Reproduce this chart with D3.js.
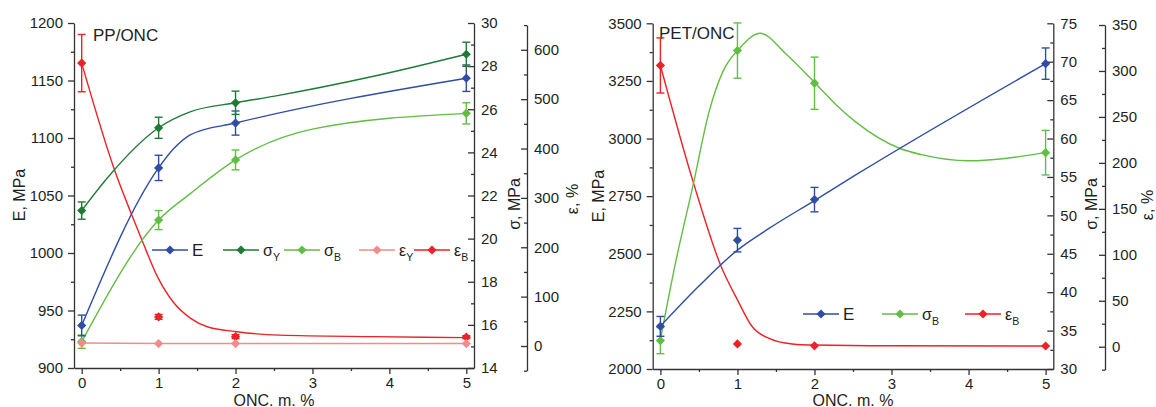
<!DOCTYPE html>
<html>
<head>
<meta charset="utf-8">
<script src="https://cdn.jsdelivr.net/npm/d3@7"></script>
<style>
  body { margin: 0; background: #fff; }
  svg { display: block; }
</style>
</head>
<body>
<svg id="chart" width="1156" height="407"></svg>
<script>
// ---------- data ----------
const onc = [0, 1, 2, 5];
const xTicks = [0, 1, 2, 3, 4, 5];
const xMinorTicks = [0.5, 1.5, 2.5, 3.5, 4.5];

// PP/ONC composites
const ppE = [937, 1074, 1113, 1152];
const ppEErr = [9, 11, 10.5, 11.5];
const ppSigmaY = [21.3, 25.14, 26.3, 28.55];
const ppSigmaYErr = [0.4, 0.49, 0.54, 0.56];
const ppSigmaB = [15.22, 20.86, 23.65, 25.81];
const ppSigmaBErr = [0.31, 0.44, 0.46, 0.49];
const ppEpsY = [6, 5, 5, 5];
const ppEpsB = [573, 59, 19, 18];
const ppEpsBErr = [58, 5, 4, 3];
// smoothed trend curves
const ppEFitX = [0, 1, 1.2, 1.417, 2, 5];
const ppEFitY = [937, 1074, 1091, 1103, 1113, 1152];
const ppSigmaYFitX = [0, 0.33, 1, 1.417, 2, 2.51, 3.81, 5];
const ppSigmaYFitY = [21.3, 22.8, 25.14, 25.89, 26.3, 26.61, 27.54, 28.55];
const ppSigmaBFitX = [0, 1, 1.417, 2, 3, 5];
const ppSigmaBFitY = [15.22, 20.86, 22.1, 23.65, 25.08, 25.81];
const ppEpsBFitX = [0, 0.435, 0.642, 0.792, 0.986, 1.2, 1.417, 1.632, 2.02, 2.57, 3.8, 5];
const ppEpsBFitY = [573, 353, 269, 211, 140, 87, 56, 39, 29, 22, 19, 17];

const ppETicks = [900, 950, 1000, 1050, 1100, 1150, 1200];
const ppEMinor = [925, 975, 1025, 1075, 1125, 1175];
const ppSigmaTicks = [14, 16, 18, 20, 22, 24, 26, 28, 30];
const ppSigmaMinor = [15, 17, 19, 21, 23, 25, 27, 29];
const ppEpsTicks = [0, 100, 200, 300, 400, 500, 600];
const ppEpsMinor = [-50, 50, 150, 250, 350, 450, 550, 650];

// PET/ONC composites
const petE = [2185, 2559, 2735, 3325];
const petEErr = [43, 51, 53, 68];
const petSigmaB = [33.7, 71.45, 67.2, 58.16];
const petSigmaBErr = [1.7, 3.6, 3.4, 2.9];
const petEpsB = [306, 3, 1, 0.8];
const petEpsBErr = [30, 0, 0, 0];
// fitted curves
const petEFitX = [0, 0.5, 1, 1.41, 2.01, 2.53, 5];
const petEFitY = [2186, 2360, 2516, 2610, 2733, 2841, 3325];
const petSigmaBFitX = [0, 0.2, 0.43, 0.627, 0.82, 1.007, 1.3, 1.62, 2.01, 2.31, 2.53, 3.11, 3.39, 4, 4.47, 5];
const petSigmaBFitY = [33.8, 44, 54.2, 63.3, 68.9, 71.5, 73.7, 71.1, 67.2, 64.1, 62.2, 58.7, 57.9, 57.1, 57.4, 58.2];
const petEpsBFitX = [0, 0.43, 0.78, 1, 1.19, 1.41, 1.71, 2, 3, 5];
const petEpsBFitY = [306, 178, 89, 51, 22, 9, 3, 1.8, 1, 0.8];

const petETicks = [2000, 2250, 2500, 2750, 3000, 3250, 3500];
const petEMinor = [2125, 2375, 2625, 2875, 3125, 3375];
const petSigmaTicks = [30, 35, 40, 45, 50, 55, 60, 65, 70, 75];
const petSigmaMinor = [32.5, 37.5, 42.5, 47.5, 52.5, 57.5, 62.5, 67.5, 72.5];
const petEpsTicks = [0, 50, 100, 150, 200, 250, 300, 350];
const petEpsMinor = [-25, 25, 75, 125, 175, 225, 275, 325];

// ---------- styling ----------
const FONT = '"Liberation Sans", Arial, Helvetica, sans-serif';
const AX = '#333';
const TXT = '#231f20';
const COL = {
  E: '#2f4ea3',
  sY: '#1f7a36',
  sB: '#62bd45',
  eY: '#f28c8c',
  eB: '#ec2227'
};

const svg = d3.select('#chart').style('font-family', FONT);

function styleAxis(sel, fontSize) {
  sel.attr('font-family', FONT).attr('font-size', fontSize || 15);
  sel.select('.domain').attr('stroke', AX).attr('stroke-width', 1.3);
  sel.selectAll('.tick line').attr('stroke', AX).attr('stroke-width', 1.3);
  sel.selectAll('.tick text').attr('fill', TXT);
}

function addAxis(g, axisFn, scale, major, minor, tickSize, tx, ty, padding) {
  const a = g.append('g').attr('transform', `translate(${tx},${ty})`)
    .call(axisFn(scale).tickValues(major).tickSize(tickSize).tickSizeOuter(0)
      .tickPadding(padding == null ? 5 : padding).tickFormat(d3.format('d')));
  styleAxis(a);
  const m = g.append('g').attr('transform', `translate(${tx},${ty})`)
    .call(axisFn(scale).tickValues(minor).tickSize(tickSize / 2).tickSizeOuter(0).tickFormat(''));
  styleAxis(m);
  m.select('.domain').remove();
  return a;
}

const diamond = r => `M0,${-r}L${r},0L0,${r}L${-r},0Z`;

function drawCurve(g, x, y, xs, ys, color, curve) {
  const pts = xs.map((d, i) => [d, ys[i]]);
  g.append('path')
    .attr('d', d3.line().x(d => x(d[0])).y(d => y(d[1])).curve(curve || d3.curveMonotoneX)(pts))
    .attr('fill', 'none').attr('stroke', color).attr('stroke-width', 1.4);
}

function drawPoints(g, x, y, xs, vals, errs, color) {
  xs.forEach((xv, i) => {
    const cx = x(xv), cy = y(vals[i]);
    const e = errs ? errs[i] : 0;
    if (e > 0) {
      const y0 = y(vals[i] - e), y1 = y(vals[i] + e);
      g.append('line').attr('x1', cx).attr('x2', cx).attr('y1', y0).attr('y2', y1)
        .attr('stroke', color).attr('stroke-width', 1.4);
      [y0, y1].forEach(yy => g.append('line')
        .attr('x1', cx - 4).attr('x2', cx + 4).attr('y1', yy).attr('y2', yy)
        .attr('stroke', color).attr('stroke-width', 1.4));
    }
    g.append('path').attr('d', diamond(4.6)).attr('transform', `translate(${cx},${cy})`)
      .attr('fill', color);
  });
}

function labelText(g, x, y, main, sub, size, opts) {
  const t = g.append('text').attr('x', x).attr('y', y).attr('fill', TXT)
    .attr('font-size', size).attr('font-family', FONT);
  if (opts && opts.rotate) t.attr('transform', `rotate(-90,${x},${y})`).attr('text-anchor', 'middle');
  if (opts && opts.anchor) t.attr('text-anchor', opts.anchor);
  t.append('tspan').text(main);
  if (sub) t.append('tspan').attr('font-size', size * 0.66).attr('dy', size * 0.3).text(sub);
  return t;
}

function legendItem(g, lx, ly, color, main, sub) {
  g.append('line').attr('x1', lx).attr('x2', lx + 36).attr('y1', ly).attr('y2', ly)
    .attr('stroke', color).attr('stroke-width', 1.4);
  g.append('path').attr('d', diamond(4.6)).attr('transform', `translate(${lx + 18},${ly})`).attr('fill', color);
  labelText(g, lx + 40, ly + 6, main, sub, main === 'E' ? 17 : 16);
}

function xAxis(g, x, yBottom, cx) {
  addAxis(g, d3.axisBottom, x, xTicks, xMinorTicks, 6, 0, yBottom, 3);
  g.append('text').attr('x', cx).attr('y', 405.5).attr('text-anchor', 'middle')
    .attr('fill', TXT).attr('font-size', 16).text('ONC. m. %');
}

// ---------- PP/ONC panel ----------
{
  const g = svg.append('g');
  const L = 74, R = 474, T = 23, B = 368;
  const x = d3.scaleLinear().domain([-0.1, 5.1]).range([L, R]);
  const yE = d3.scaleLinear().domain([900, 1200]).range([B, T]);
  const yS = d3.scaleLinear().domain([14, 30]).range([B, T]);
  const yEps = d3.scaleLinear().domain([-50, 650]).range([370.7, 25.1]);

  xAxis(g, x, B, (L + R) / 2);
  addAxis(g, d3.axisLeft, yE, ppETicks, ppEMinor, 6, L, 0);
  addAxis(g, d3.axisRight, yS, ppSigmaTicks, ppSigmaMinor, -6, R, 0).selectAll('.tick text').attr('x', 7);
  addAxis(g, d3.axisRight, yEps, ppEpsTicks, ppEpsMinor, -6, 527, 0).selectAll('.tick text').attr('x', 7);

  labelText(g, 25, 195, 'E, MPa', null, 16, { rotate: true });
  labelText(g, 520, 204, 'σ, MPa', null, 16, { rotate: true });
  labelText(g, 578, 199, 'ε, %', null, 16, { rotate: true });
  labelText(g, 93, 40.5, 'PP/ONC', null, 17);

  const pg = g.append('g');
  drawCurve(pg, x, yEps, ppEpsBFitX, ppEpsBFitY, COL.eB);
  drawCurve(pg, x, yE, ppEFitX, ppEFitY, COL.E);
  drawCurve(pg, x, yS, ppSigmaYFitX, ppSigmaYFitY, COL.sY);
  drawCurve(pg, x, yS, ppSigmaBFitX, ppSigmaBFitY, COL.sB);
  drawCurve(pg, x, yEps, onc, ppEpsY, COL.eY, d3.curveLinear);
  drawPoints(pg, x, yS, onc, ppSigmaB, ppSigmaBErr, COL.sB);
  drawPoints(pg, x, yE, onc, ppE, ppEErr, COL.E);
  drawPoints(pg, x, yS, onc, ppSigmaY, ppSigmaYErr, COL.sY);
  drawPoints(pg, x, yEps, onc, ppEpsB, ppEpsBErr, COL.eB);
  drawPoints(pg, x, yEps, onc, ppEpsY, null, COL.eY);

  const lg = g.append('g');
  legendItem(lg, 152, 250, COL.E, 'E');
  legendItem(lg, 223, 250, COL.sY, 'σ', 'Y');
  legendItem(lg, 284, 250, COL.sB, 'σ', 'B');
  legendItem(lg, 359, 250, COL.eY, 'ε', 'Y');
  legendItem(lg, 414, 250, COL.eB, 'ε', 'B');
}

// ---------- PET/ONC panel ----------
{
  const g = svg.append('g');
  const L = 652.7, R = 1053.3, T = 23.3, B = 369;
  const x = d3.scaleLinear().domain([-0.1, 5.1]).range([L, R]);
  const yE = d3.scaleLinear().domain([2000, 3500]).range([B, T]);
  const yS = d3.scaleLinear().domain([30, 75]).range([B, T]);
  const yEps = d3.scaleLinear().domain([-25, 350]).range([369.7, 25]);

  xAxis(g, x, B, (L + R) / 2);
  addAxis(g, d3.axisLeft, yE, petETicks, petEMinor, 6, L, 0);
  addAxis(g, d3.axisRight, yS, petSigmaTicks, petSigmaMinor, -6, R, 0).selectAll('.tick text').attr('x', 7);
  addAxis(g, d3.axisRight, yEps, petEpsTicks, petEpsMinor, -6, 1105, 0).selectAll('.tick text').attr('x', 7);

  labelText(g, 604, 196, 'E, MPa', null, 16, { rotate: true });
  labelText(g, 1097, 204, 'σ, MPa', null, 16, { rotate: true });
  labelText(g, 1153, 205, 'ε, %', null, 16, { rotate: true });
  labelText(g, 659, 38.5, 'PET/ONC', null, 17);

  const pg = g.append('g');
  drawCurve(pg, x, yEps, petEpsBFitX, petEpsBFitY, COL.eB);
  drawCurve(pg, x, yS, petSigmaBFitX, petSigmaBFitY, COL.sB);
  drawCurve(pg, x, yE, petEFitX, petEFitY, COL.E);
  drawPoints(pg, x, yS, onc, petSigmaB, petSigmaBErr, COL.sB);
  drawPoints(pg, x, yE, onc, petE, petEErr, COL.E);
  drawPoints(pg, x, yEps, onc, petEpsB, petEpsBErr, COL.eB);

  const lg = g.append('g');
  legendItem(lg, 803, 314, COL.E, 'E');
  legendItem(lg, 882, 314, COL.sB, 'σ', 'B');
  legendItem(lg, 965, 314, COL.eB, 'ε', 'B');
}
</script>
</body>
</html>
